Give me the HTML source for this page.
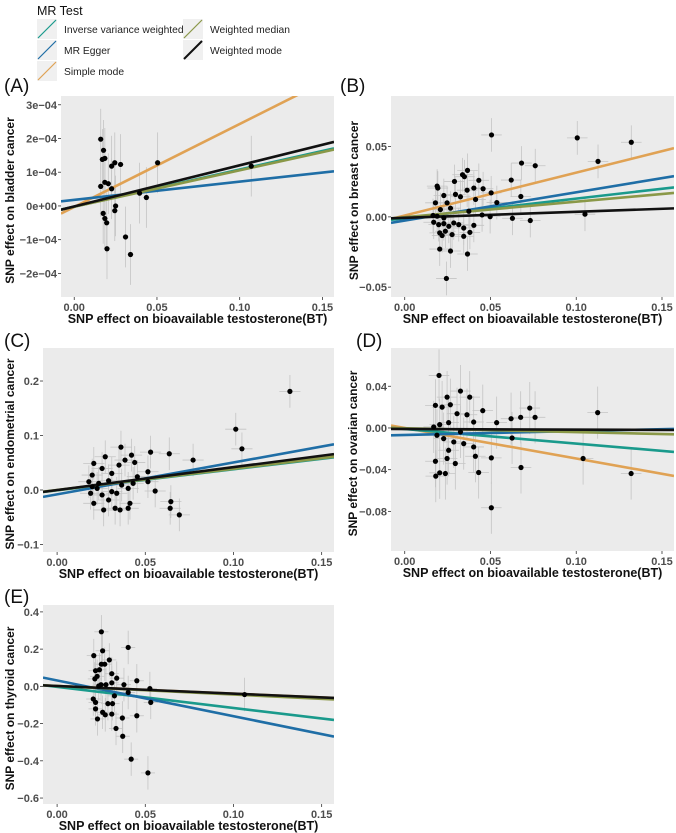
<!DOCTYPE html>
<html><head><meta charset="utf-8"><style>
html,body{margin:0;padding:0;background:#fff;}
svg{display:block;font-family:"Liberation Sans",sans-serif;}
</style></head><body>
<svg id="fig" width="676" height="833" viewBox="0 0 676 833"></svg>
<script>
const methods = ["Inverse variance weighted","MR Egger","Simple mode","Weighted median","Weighted mode"];
const methodColors = ["#1a9a8c","#1f6ea6","#e0a254","#8a9848","#111111"];

// Panel A (bladder)
const aX = [0.016,0.0177,0.017,0.0185,0.0226,0.0245,0.028,0.0504,0.107,0.016,0.0185,0.0206,0.0226,0.0175,0.0185,0.0196,0.025,0.0245,0.031,0.034,0.0198,0.0395,0.0436];
const aY = [1.98e-4,1.65e-4,1.38e-4,1.41e-4,1.18e-4,1.28e-4,1.23e-4,1.28e-4,1.18e-4,0.58e-4,0.7e-4,0.66e-4,0.51e-4,-0.22e-4,-0.37e-4,-0.5e-4,0.0,-0.14e-4,-0.92e-4,-1.44e-4,-1.27e-4,0.38e-4,0.25e-4];
const aSlope = [1.1e-3,0.54e-3,2.46e-3,1.08e-3,1.22e-3];
const aInt = [-2e-6,1.8e-5,-3e-6,-2.4e-6,-1.5e-6];
const aTicks = [-2e-4,-1e-4,0,1e-4,2e-4,3e-4];
const aTickLabels = ["\u22122e\u221204","\u22121e\u221204","0e+00","1e\u221204","2e\u221204","3e\u221204"];

// Panel B (breast)
const bX = [0.0506,0.1006,0.1321,0.1127,0.0681,0.0761,0.0621,0.0677,0.0628,0.0732,0.1051,0.0498,0.0537,0.0504,0.0366,0.0337,0.0348,0.0432,0.0189,0.0193,0.029,0.0457,0.0403,0.0364,0.0296,0.0325,0.0228,0.0413,0.0179,0.0247,0.0267,0.0208,0.0189,0.0228,0.0169,0.0198,0.0257,0.0286,0.0315,0.0344,0.0403,0.0237,0.0276,0.0218,0.0344,0.038,0.0204,0.0204,0.0267,0.0366,0.0243,0.0451,0.0165,0.0228,0.0374];
const bY = [0.0583,0.0562,0.0531,0.0395,0.0383,0.0364,0.0262,0.0145,-0.001,-0.0026,0.0019,0.0002,0.0102,0.0171,0.0331,0.030,0.0286,0.026,0.0219,0.0205,0.0252,0.02,0.0205,0.019,0.016,0.0143,0.0152,0.0124,0.01,0.01,0.0062,0.0052,0.0005,-0.0007,-0.0038,-0.0055,-0.0067,-0.0043,-0.0055,-0.0079,-0.006,-0.0102,-0.0126,-0.0133,-0.0138,-0.011,-0.0114,-0.0229,-0.0243,-0.0264,-0.0438,0.0014,0.001,-0.0048,0.004];
const bSlope = [0.14,0.201,0.305,0.11,0.043];
const bInt = [-0.001,-0.0026,0.001,-0.0002,-0.0007];
const bTicks = [-0.05,0,0.05];
const bTickLabels = ["\u22120.05","0.00","0.05"];

// Panel C (endometrial)
const cX = [0.132,0.1013,0.1048,0.0771,0.0636,0.053,0.0362,0.0422,0.044,0.0385,0.0351,0.0273,0.0208,0.0255,0.031,0.0199,0.0515,0.0455,0.0515,0.0556,0.0645,0.0641,0.0693,0.018,0.0236,0.0292,0.0227,0.019,0.0255,0.031,0.0366,0.0403,0.0208,0.0264,0.0329,0.0357,0.0403,0.0413,0.0292,0.0199,0.0338,0.0431];
const cY = [0.181,0.1116,0.0756,0.0549,0.0665,0.0695,0.0787,0.064,0.0506,0.0549,0.0457,0.061,0.0488,0.0396,0.0305,0.0274,0.0335,0.0244,0.0152,-0.0018,-0.0213,-0.0335,-0.0457,0.0152,0.0122,0.0171,0.003,-0.006,-0.0091,-0.003,0.0091,0.003,-0.0244,-0.0366,-0.0335,-0.0366,-0.0335,-0.0244,-0.0183,0.0061,-0.006,0.0122];
const cSlope = [0.385,0.585,0.4,0.39,0.42];
const cInt = [-0.0005,-0.008,-0.0005,0.0,-0.0001];
const cTicks = [-0.1,0,0.1,0.2];
const cTickLabels = ["\u22120.1","0.0","0.1","0.2"];

// Panel D (ovarian)
const dX = [0.02,0.0325,0.0247,0.0379,0.0729,0.1125,0.076,0.0676,0.062,0.0536,0.0455,0.0179,0.0218,0.0266,0.0305,0.0363,0.0402,0.0169,0.0204,0.0256,0.0188,0.0227,0.0286,0.0344,0.0402,0.0256,0.0247,0.0179,0.0295,0.0505,0.0412,0.0678,0.0431,0.132,0.0204,0.0181,0.0237,0.0505,0.104,0.0626,0.0325];
const dY = [0.0504,0.0354,0.0296,0.0296,0.0191,0.0147,0.0102,0.0102,0.0089,0.0051,0.0166,0.0217,0.02,0.0223,0.0137,0.0127,0.0057,0.001,0.0032,0.0051,-0.007,-0.0102,-0.0134,-0.015,-0.0182,-0.0214,-0.0293,-0.0319,-0.0341,-0.0287,-0.0271,-0.0379,-0.0427,-0.0437,-0.043,-0.0462,-0.0437,-0.0765,-0.0293,-0.0096,-0.0038];
const dSlope = [-0.14,0.037,-0.293,-0.037,-0.006];
const dInt = [-0.001,-0.0067,0.0,-0.0003,-0.001];
const dTicks = [-0.08,-0.04,0,0.04];
const dTickLabels = ["\u22120.08","\u22120.04","0.00","0.04"];

// Panel E (thyroid)
const eX = [0.0251,0.0403,0.0258,0.0208,0.0296,0.0251,0.027,0.024,0.0218,0.0227,0.0214,0.031,0.0338,0.0452,0.031,0.0249,0.0277,0.0379,0.0526,0.0236,0.0403,0.0325,0.0205,0.0218,0.0288,0.0314,0.0531,0.0218,0.0258,0.0273,0.031,0.0452,0.0229,0.037,0.0334,0.0372,0.042,0.0515,0.1063];
const eY = [0.293,0.209,0.191,0.165,0.142,0.119,0.119,0.089,0.084,0.054,0.04,0.068,0.044,0.03,0.019,0.009,0.009,0.009,-0.012,0.002,-0.033,-0.051,-0.068,-0.086,-0.093,-0.093,-0.086,-0.121,-0.139,-0.153,-0.149,-0.158,-0.175,-0.17,-0.226,-0.268,-0.391,-0.465,-0.044];
const eSlope = [-1.13,-1.92,-0.41,-0.46,-0.41];
const eInt = [-0.003,0.0316,0.002,0.002,0.002];
const eTicks = [-0.6,-0.4,-0.2,0,0.2,0.4];
const eTickLabels = ["\u22120.6","\u22120.4","\u22120.2","0.0","0.2","0.4"];

const xTicks = [0,0.05,0.10,0.15];
const xTickLabels = ["0.00","0.05","0.10","0.15"];

const NS="http://www.w3.org/2000/svg";
const svg=document.getElementById('fig');
function mk(tag,attrs,parent){const e=document.createElementNS(NS,tag);for(const k in attrs)e.setAttribute(k,attrs[k]);(parent||svg).appendChild(e);return e;}

const panels=[
 {key:"a",label:"(A)",lx:4,ly:92,px:61,pw:273,py:96,ph:201,ydom:[-2.7e-4,3.26e-4],X:aX,Y:aY,S:aSlope,I:aInt,T:aTicks,TL:aTickLabels,title:"SNP effect on bladder cancer",tx:10,xe:0.002,ye:0.9e-4},
 {key:"b",label:"(B)",lx:340,ly:92,px:391,pw:283,py:96,ph:201,ydom:[-0.057,0.086],X:bX,Y:bY,S:bSlope,I:bInt,T:bTicks,TL:bTickLabels,title:"SNP effect on breast cancer",tx:354,xe:0.006,ye:0.012},
 {key:"c",label:"(C)",lx:4,ly:347,px:43,pw:291,py:348,ph:204,ydom:[-0.1138,0.2606],X:cX,Y:cY,S:cSlope,I:cInt,T:cTicks,TL:cTickLabels,title:"SNP effect on endometrial cancer",tx:10,xe:0.006,ye:0.03},
 {key:"d",label:"(D)",lx:356,ly:347,px:391,pw:283,py:348,ph:203,ydom:[-0.118,0.0767],X:dX,Y:dY,S:dSlope,I:dInt,T:dTicks,TL:dTickLabels,title:"SNP effect on ovarian cancer",tx:353,xe:0.006,ye:0.025},
 {key:"e",label:"(E)",lx:4,ly:603,px:43,pw:291,py:605,ph:199,ydom:[-0.632,0.437],X:eX,Y:eY,S:eSlope,I:eInt,T:eTicks,TL:eTickLabels,title:"SNP effect on thyroid cancer",tx:10,xe:0.004,ye:0.09}
];
const xdom=[-0.008,0.157];

panels.forEach(p=>{
  const g=mk('g',{});
  
  
  const sx=v=>p.px+(v-xdom[0])/(xdom[1]-xdom[0])*p.pw;
  const sy=v=>p.py+p.ph-(v-p.ydom[0])/(p.ydom[1]-p.ydom[0])*p.ph;
  const lab=mk('text',{x:p.lx,y:p.ly,'font-size':19,fill:'#111'},g);lab.textContent=p.label;
  
  const bg=mk('rect',{x:p.px,y:p.py,width:p.pw,height:p.ph,fill:'#ebebeb'},g);
  
  const cid='clip-'+p.key;
  const cp=mk('clipPath',{id:cid},g);mk('rect',{x:p.px,y:p.py,width:p.pw,height:p.ph},cp);
  const inner=mk('g',{'clip-path':'url(#'+cid+')'},g);
  p.X.forEach((x,i)=>{
    const y=p.Y[i];
    const v=mk('line',{x1:sx(x),x2:sx(x),y1:sy(y-p.ye),y2:sy(y+p.ye),stroke:'#c4c4c4','stroke-width':0.8},inner);
    
    const h=mk('line',{x1:sx(x-p.xe),x2:sx(x+p.xe),y1:sy(y),y2:sy(y),stroke:'#c4c4c4','stroke-width':0.8},inner);
    
  });
  [2,0,1,3,4].forEach(m=>{
    const l=mk('line',{x1:sx(xdom[0]),x2:sx(xdom[1]),y1:sy(p.I[m]+p.S[m]*xdom[0]),y2:sy(p.I[m]+p.S[m]*xdom[1]),stroke:methodColors[m],'stroke-width':2.6},inner);
    
    
  });
  p.X.forEach((x,i)=>{
    const c=mk('circle',{cx:sx(x),cy:sy(p.Y[i]),r:2.6,fill:'#000'},inner);
    
  });
  p.T.forEach((t,i)=>{
    const y=sy(t);
    mk('line',{x1:p.px-3,x2:p.px,y1:y,y2:y,stroke:'#333','stroke-width':0.8},g);
    const tl=mk('text',{x:p.px-4,y:y+4,'font-size':11,'font-weight':'bold',fill:'#4d4d4d','text-anchor':'end'},g);
    tl.textContent=p.TL[i];
    
  });
  xTicks.forEach((t,i)=>{
    const x=sx(t);
    mk('line',{x1:x,x2:x,y1:p.py+p.ph,y2:p.py+p.ph+3,stroke:'#333','stroke-width':0.8},g);
    const tl=mk('text',{x:x,y:p.py+p.ph+14,'font-size':11,'font-weight':'bold',fill:'#4d4d4d','text-anchor':'middle'},g);
    tl.textContent=xTickLabels[i];
    
  });
  const xt=mk('text',{x:p.px+p.pw/2,y:Math.min(p.py+p.ph+26,830),'font-size':12.5,'font-weight':'bold',fill:'#111','text-anchor':'middle'},g);
  xt.textContent="SNP effect on bioavailable testosterone(BT)";
  
  const cy=p.py+p.ph/2;
  const yt=mk('text',{x:p.tx,y:cy,'font-size':12,'font-weight':'bold',fill:'#111','text-anchor':'middle',transform:'rotate(-90 '+(p.tx+4)+' '+cy+')'},g);
  yt.textContent=p.title;
  
});

const lg=mk('g',{});

const lt=mk('text',{x:37,y:15,'font-size':12.5,fill:'#111'},lg);lt.textContent="MR Test";

const pos=[[37,19],[37,40],[37,61],[183,19],[183,40]];
methods.forEach((m,i)=>{
  const [x,y]=pos[i];
  const e=mk('g',{},lg);
  
  mk('rect',{x:x,y:y,width:20,height:20,fill:'#f0f0f0'},e);
  mk('line',{x1:x+1,y1:y+19,x2:x+19,y2:y+1,stroke:methodColors[i],'stroke-width':i==4?2:1.2},e);
  const t=mk('text',{x:x+27,y:y+14,'font-size':10.3,fill:'#222'},e);t.textContent=m;
});
</script>
</body></html>
